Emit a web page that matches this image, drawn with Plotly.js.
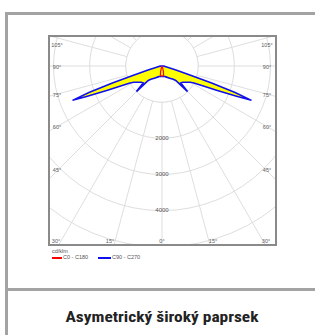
<!DOCTYPE html>
<html>
<head>
<meta charset="utf-8">
<script src="https://cdn.plot.ly/plotly-3.0.1.min.js"></script>
<style>
  html, body { margin: 0; padding: 0; background: #fff; }
  body { width: 315px; height: 335px; overflow: hidden; position: relative; font-family: "Liberation Sans", Arial, sans-serif; }
  #frame { position: absolute; left: 5px; top: 12px; width: 420px; height: 420px; border: 3px solid #a3a3a3; box-sizing: border-box; }
  #sep { position: absolute; left: 5px; top: 288px; width: 420px; height: 3px; background: #a3a3a3; }
  #title { position: absolute; left: 0; width: 324px; top: 308px; text-align: center; font-family: "Liberation Sans Narrow", "Roboto Condensed", "Liberation Sans", sans-serif; font-weight: bold; font-size: 15px; color: #222; white-space: nowrap; transform: scaleX(1.16); transform-origin: 162px 0; }
  #clip { position: absolute; left: 48px; top: 35px; width: 229px; height: 211px; overflow: hidden; background: #fff; }
  #chart { position: absolute; left: -103px; top: -186px; width: 434px; height: 434px; }
  #box { position: absolute; left: 48px; top: 35px; width: 229px; height: 211px; border: 2px solid #8a8a8a; box-sizing: border-box; pointer-events: none; }
  .al { position: absolute; font-size: 5.5px; color: #5a5a5a; transform: translate(-50%, -50%); white-space: nowrap; }
  #legend { position: absolute; left: 52px; top: 248px; font-size: 5.5px; color: #555; }
  .sw { position: absolute; height: 1.5px; }
  .lt { position: absolute; white-space: nowrap; }
</style>
</head>
<body>
<div id="frame"></div>
<div id="sep"></div>
<div id="clip"><div id="chart"></div></div>
<div id="box"></div>
<div id="labels"></div>
<div id="legend"></div>
<div id="title">Asymetrický široký paprsek</div>
<script>
// ---- data (cd/klm) ----
// C90 - C270 plane: gamma angles (deg from nadir) and intensities
const gammaC90 = [0, 10, 20, 30, 40, 43, 44, 45, 48, 52, 56, 60, 62, 64, 66, 68, 69, 70, 71, 72, 74, 76, 80, 85, 90, 95, 180];
const intensityC90 = [280, 290, 320, 380, 480, 540, 580, 1000, 700, 730, 800, 900, 1000, 1250, 1650, 2250, 2650, 2150, 1450, 850, 400, 220, 110, 50, 20, 0, 0];
// C0 - C180 plane
const gammaC0 = [0, 5, 10, 15, 20, 25, 180];
const intensityC0 = [280, 275, 250, 150, 40, 0, 0];
// radial tick labels
const radialTicks = [2000, 3000, 4000];
const radialGrid = [1000, 2000, 3000, 4000, 5000, 6000];
// angle labels around the frame
const angleLabelsSide = ["105°", "90°", "75°", "60°", "45°"];
const angleLabelsBottom = ["30°", "15°", "0°", "15°", "30°"];
const legendNames = ["C0 - C180", "C90 - C270"];
const unitLabel = "cd/klm";

function mirror(g, v) {
  const th = [], r = [];
  for (let i = g.length - 1; i >= 0; i--) { th.push(-g[i]); r.push(v[i]); }
  for (let i = 1; i < g.length; i++) { th.push(g[i]); r.push(v[i]); }
  return {th, r};
}
const blue = mirror(gammaC90, intensityC90);
const red = mirror(gammaC0, intensityC0);

const discTheta = [], discR = [];
for (let a = 0; a <= 360; a += 5) { discTheta.push(a); discR.push(radialGrid[0]); }

const traces = [
  {type: 'scatterpolar', r: discR, theta: discTheta, mode: 'lines', fill: 'toself',
   fillcolor: '#ffffff', line: {color: '#dedede', width: 1}, hoverinfo: 'skip', showlegend: false},
  {type: 'scatterpolar', r: blue.r, theta: blue.th, mode: 'lines', fill: 'toself',
   fillcolor: '#ffff00', line: {color: '#1010ee', width: 1.6}, name: legendNames[1], showlegend: false},
  {type: 'scatterpolar', r: red.r, theta: red.th, mode: 'lines', fill: 'toself',
   fillcolor: '#ffff00', line: {color: '#ff0000', width: 1.2}, name: legendNames[0], showlegend: false},
  {type: 'scatterpolar', r: radialTicks, theta: radialTicks.map(() => 0), mode: 'text',
   text: radialTicks.map(String), textfont: {size: 6, color: '#555', family: 'Liberation Sans'},
   hoverinfo: 'skip', showlegend: false}
];

const layout = {
  width: 434, height: 434,
  margin: {l: 0, r: 0, t: 0, b: 0, pad: 0},
  paper_bgcolor: '#ffffff',
  showlegend: false,
  polar: {
    domain: {x: [0, 1], y: [0, 1]},
    bgcolor: '#ffffff',
    angularaxis: {rotation: -90, direction: 'counterclockwise', tickmode: 'linear', dtick: 15,
      showgrid: true, gridcolor: '#dedede', gridwidth: 1, showline: false, showticklabels: false, ticks: ''},
    radialaxis: {range: [0, 6000], tickmode: 'array', tickvals: radialGrid, showgrid: true,
      gridcolor: '#dedede', gridwidth: 1, showline: false, showticklabels: false, ticks: ''}
  }
};
Plotly.newPlot('chart', traces, layout, {staticPlot: true, displayModeBar: false});

// angle labels
const lab = document.getElementById('labels');
const sideY = [45, 67, 95, 127, 170];
const bottomX = [56, 110, 162, 213, 266];
function addLabel(t, x, y) {
  const d = document.createElement('div');
  d.className = 'al'; d.textContent = t; d.style.left = x + 'px'; d.style.top = y + 'px';
  lab.appendChild(d);
}
angleLabelsSide.forEach((t, i) => { addLabel(t, 57, sideY[i]); addLabel(t, 267, sideY[i]); });
angleLabelsBottom.forEach((t, i) => addLabel(t, bottomX[i], 241));

// legend
const lg = document.getElementById('legend');
lg.innerHTML =
  '<div class="lt" style="left:0;top:0">' + unitLabel + '</div>' +
  '<div class="sw" style="left:0;top:9px;width:10px;background:#ff0000"></div>' +
  '<div class="lt" style="left:11px;top:6px">' + legendNames[0] + '</div>' +
  '<div class="sw" style="left:46px;top:9px;width:13px;background:#1010ee"></div>' +
  '<div class="lt" style="left:60px;top:6px">' + legendNames[1] + '</div>';
</script>
</body>
</html>
